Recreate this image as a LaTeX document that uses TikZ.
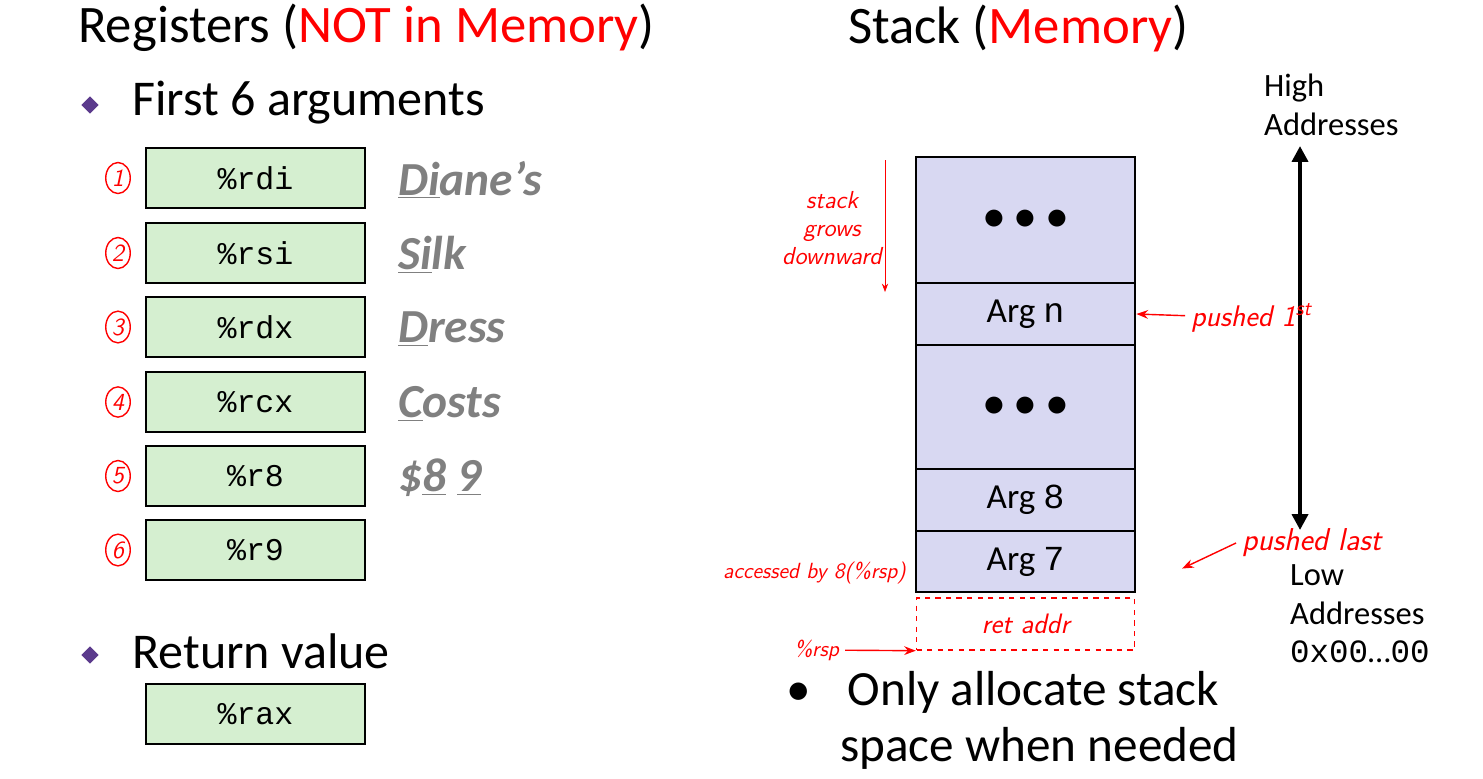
\documentclass[tikz,border=0pt]{standalone}
\usepackage{fontspec}
\setmainfont{Carlito}
\newfontfamily\monofont{Liberation Mono}
\usetikzlibrary{positioning,shapes.geometric,arrows.meta}
\definecolor{regfill}{HTML}{D5EFD0}
\definecolor{stackfill}{HTML}{D8D8F2}
\definecolor{mnem}{HTML}{808080}
\definecolor{bulletpurple}{HTML}{5B3A8C}
\begin{document}
\begin{tikzpicture}[x=0.02cm,y=-0.02cm,
  reg/.style={draw,line width=1.6pt,fill=regfill,minimum width=4.38cm,minimum height=1.2cm,font=\monofont\fontsize{18}{20}\selectfont},
  slot/.style={draw,line width=1.6pt,fill=stackfill,minimum width=4.38cm,font=\fontsize{20}{22}\selectfont},
  title/.style={anchor=west,font=\fontsize{30}{34}\selectfont},
  mnemo/.style={anchor=west,text=mnem,font=\bfseries\itshape\fontsize{27}{29}\selectfont},
  hand/.style={text=red,font=\sffamily\itshape\fontsize{14}{16}\selectfont},
  num/.style={draw=red,ellipse,thick,inner sep=1.5pt,text=red,font=\sffamily\itshape\fontsize{14}{15}\selectfont},
  note/.style={anchor=west,font=\fontsize{18.5}{22}\selectfont,align=left}]
  \useasboundingbox (0,0) rectangle (1483,778);

  % titles
  \node[title] (regtitle) at (72,28) {Registers (\textcolor{red}{NOT in Memory})};
  \node[title] (stacktitle) at (842,28) {Stack (\textcolor{red}{Memory})};
  \node[diamond,fill=bulletpurple,inner sep=2.5pt] (b1) at (90,105) {};
  \node[title,font=\fontsize{28.5}{32}\selectfont] (args) at (126,103) {First 6 arguments};
  \node[diamond,fill=bulletpurple,inner sep=2.5pt] (b2) at (90,655) {};
  \node[title,font=\fontsize{28.5}{32}\selectfont] (ret) at (126,651) {Return value};

  % argument registers
  \foreach \name/\y/\n in {rdi/178/1,rsi/253/2,rdx/327/3,rcx/402/4,r8/476/5,r9/550/6}{
    \node[reg] (\name) at (255.5,\y) {\%\name};
    \node[num] (n\n) at (118,\y) {\n};
  }
  \node[reg] (rax) at (255.5,714) {\%rax};

  \node[mnemo] (m1) at (392,180) {\underline{Di}ane’s};
  \node[mnemo] (m2) at (392,255) {\underline{Si}lk};
  \node[mnemo] (m3) at (392,329) {\underline{D}ress};
  \node[mnemo] (m4) at (392,404) {\underline{C}osts};
  \node[mnemo] (m5) at (392,478) {\$\underline{8} \underline{9}};

  % stack
  \node[slot,minimum height=2.52cm] (dots1) at (1025.5,220) {\fontsize{28}{28}\selectfont$\bullet\bullet\bullet$};
  \node[slot,minimum height=1.24cm] (argn) at (1025.5,314) {Arg {\monofont n}};
  \node[slot,minimum height=2.48cm] (dots2) at (1025.5,407) {\fontsize{28}{28}\selectfont$\bullet\bullet\bullet$};
  \node[slot,minimum height=1.24cm] (arg8) at (1025.5,500) {Arg {\monofont 8}};
  \node[slot,minimum height=1.22cm] (arg7) at (1025.5,561.5) {Arg {\monofont 7}};
  \node[draw=red,dashed,thick,minimum width=4.36cm,minimum height=1.04cm,text=red,
        font=\sffamily\itshape\fontsize{16}{17}\selectfont] (retaddr) at (1025.5,624) {ret addr};

  % address axis
  \node[note] (high) at (1258,105) {High\\Addresses};
  \node[note] (low) at (1284,614) {Low\\Addresses\\{\monofont 0x00}…{\monofont 00}};
  \coordinate (top) at (1300,146);
  \coordinate (bot) at (1300,530);
  \draw[line width=2.2pt,{Triangle[length=9pt,width=9pt]}-{Triangle[length=9pt,width=9pt]}] (top) -- (bot);

  % annotations
  \node[hand,align=center] (grows) at (832,228) {stack\\grows\\downward};
  \coordinate (g1) at (885,160);
  \coordinate (g2) at (885,292);
  \draw[red,-{Stealth}] (g1) -- (g2);
  \node[hand,anchor=west,font=\sffamily\itshape\fontsize{17}{18}\selectfont] (p1) at (1185,318) {pushed 1\textsuperscript{st}};
  \draw[red,thick,-{Stealth}] (p1) -- (argn.east);
  \node[hand,anchor=west,font=\sffamily\itshape\fontsize{18}{19}\selectfont] (plast) at (1236,543) {pushed last};
  \draw[red,thick,-{Stealth}] (plast.west) -- ([xshift=26pt,yshift=-4pt]arg7.east);
  \node[hand,anchor=east,font=\sffamily\itshape\fontsize{12.5}{13}\selectfont] (acc) at (912,573) {accessed by 8(\%rsp)};
  \node[hand,anchor=east,font=\sffamily\itshape\fontsize{12.5}{13}\selectfont] (rsp) at (845,650) {\%rsp};
  \draw[red,thick,-{Stealth}] (rsp) -- (retaddr.south west);

  % bullet text
  \node[title,font=\fontsize{28}{32}\selectfont,align=left] (only) at (780,720) {•\hspace{0.75em}Only allocate stack\\\hspace{1.1em}space when needed};
\end{tikzpicture}
\end{document}
